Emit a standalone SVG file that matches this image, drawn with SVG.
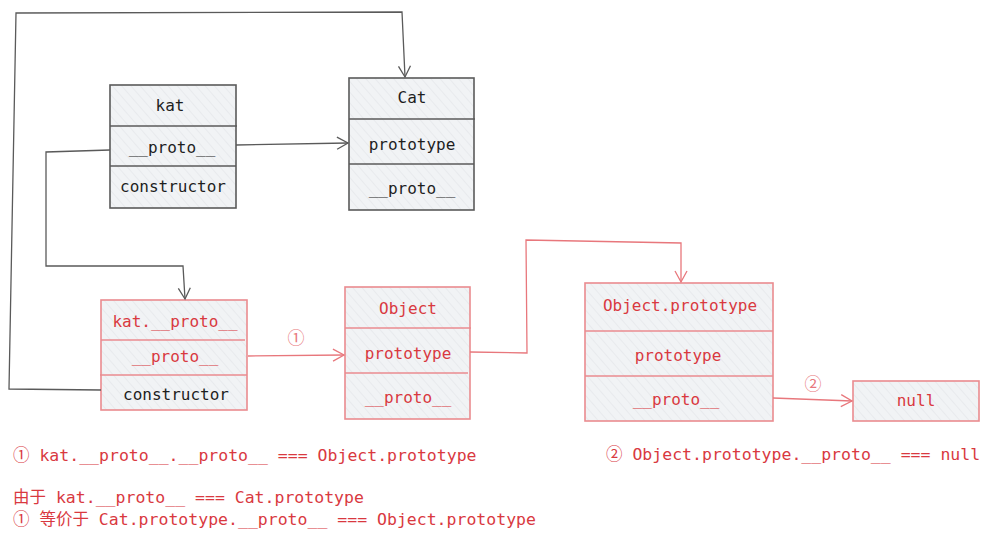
<svg xmlns="http://www.w3.org/2000/svg" width="999" height="544" viewBox="0 0 999 544">
<defs>
<pattern id="hatch" patternUnits="userSpaceOnUse" width="7" height="7" patternTransform="rotate(-41)">
<rect width="7" height="7" fill="#f1f3f5"/>
<line x1="0" y1="0" x2="0" y2="7" stroke="#dfe2e6" stroke-width="1"/>
</pattern>
<marker id="ag" markerUnits="userSpaceOnUse" markerWidth="14" markerHeight="14" refX="12" refY="7" orient="auto">
<path d="M1,1 L12,7 L1,13" fill="none" stroke="#5a5a5a" stroke-width="1.3"/>
</marker>
<marker id="ar" markerUnits="userSpaceOnUse" markerWidth="14" markerHeight="14" refX="12" refY="7" orient="auto">
<path d="M1,1 L12,7 L1,13" fill="none" stroke="#e8777c" stroke-width="1.3"/>
</marker>
</defs>
<style>
text{font-family:"DejaVu Sans Mono","Liberation Mono","Noto Sans CJK SC",monospace;font-size:16px;text-anchor:middle;dominant-baseline:central}
.g rect{fill:url(#hatch);stroke:#5a5a5a;stroke-width:1.6}
.g line{stroke:#5a5a5a;stroke-width:1.4}
.g text{fill:#1e1e1e}
.r rect{fill:url(#hatch);stroke:#ea8b8f;stroke-width:1.6}
.r line{stroke:#ea8b8f;stroke-width:1.4}
.r text{fill:#d9393f}
.r text.k{fill:#1e1e1e}
.cg{fill:none;stroke:#5a5a5a;stroke-width:1.3}
.cr{fill:none;stroke:#e8777c;stroke-width:1.3}
.note{fill:#d9393f;text-anchor:start;font-size:16.5px}
.lbl{fill:#e8777c;font-size:17px}
</style>
<rect width="999" height="544" fill="#ffffff"/>
<g id="kat" class="g">
<rect x="110" y="85" width="126" height="123"/>
<line x1="110" y1="126" x2="237" y2="126"/>
<line x1="110" y1="166" x2="236" y2="166"/>
<text x="170" y="105">kat</text>
<text x="172" y="147">__proto__</text>
<text x="173" y="186">constructor</text>
</g>
<g id="cat" class="g">
<rect x="349" y="78" width="125" height="132"/>
<line x1="349" y1="119" x2="475" y2="119"/>
<line x1="349" y1="164" x2="474" y2="164"/>
<text x="412" y="97">Cat</text>
<text x="412" y="144">prototype</text>
<text x="412" y="188">__proto__</text>
</g>
<g id="katproto" class="r">
<rect x="101" y="300" width="146" height="110"/>
<line x1="101" y1="340" x2="245" y2="340"/>
<line x1="100" y1="375" x2="247" y2="375"/>
<text x="175" y="321">kat.__proto__</text>
<text x="175" y="356">__proto__</text>
<text class="k" x="176" y="394">constructor</text>
</g>
<g id="object" class="r">
<rect x="345" y="287" width="125" height="132"/>
<line x1="345" y1="328" x2="471" y2="328"/>
<line x1="345" y1="373" x2="468" y2="373"/>
<text x="408" y="308">Object</text>
<text x="408" y="353">prototype</text>
<text x="408" y="397">__proto__</text>
</g>
<g id="objectprototype" class="r">
<rect x="585" y="283" width="188" height="138"/>
<line x1="585" y1="331" x2="773" y2="331"/>
<line x1="585" y1="376" x2="773" y2="376"/>
<text x="680" y="305">Object.prototype</text>
<text x="678" y="355">prototype</text>
<text x="676" y="399">__proto__</text>
</g>
<g id="null" class="r">
<rect x="853" y="381" width="126" height="40"/>
<text x="916" y="400">null</text>
</g>
<g id="connectors">
<path class="cg" d="M101,390 L9,389 L16,13 L402,12 L405,77" marker-end="url(#ag)"/>
<path class="cg" d="M110,150 L46,152 L46,266 L183,266 L185,299" marker-end="url(#ag)"/>
<path class="cg" d="M236,145 L348,143" marker-end="url(#ag)"/>
<path class="cr" d="M248,356 L344,355" marker-end="url(#ar)"/>
<path class="cr" d="M470,352 L527,353 L526,240 L681,243 L681,282" marker-end="url(#ar)"/>
<path class="cr" d="M773,398 L852,401" marker-end="url(#ar)"/>
<text class="lbl" x="296" y="338">①</text>
<text class="lbl" x="813" y="384">②</text>
</g>
<g id="notes">
<text class="note" x="13" y="455">① kat.__proto__.__proto__ === Object.prototype</text>
<text class="note" x="606" y="454">② Object.prototype.__proto__ === null</text>
<text class="note" x="13" y="497">由于 kat.__proto__ === Cat.prototype</text>
<text class="note" x="13" y="519">① 等价于 Cat.prototype.__proto__ === Object.prototype</text>
</g>
</svg>
